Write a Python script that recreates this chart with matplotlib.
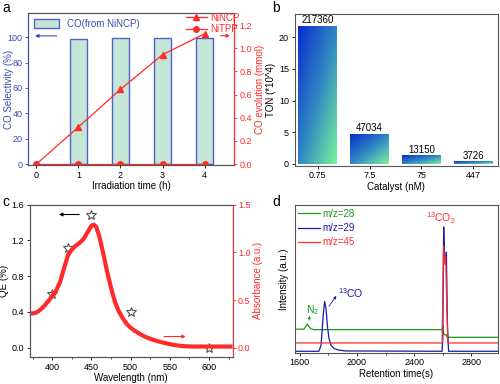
import numpy as np
import matplotlib
matplotlib.use("Agg")
import matplotlib.pyplot as plt
from matplotlib.colors import LinearSegmentedColormap
from matplotlib.lines import Line2D
from matplotlib.patches import Patch
from matplotlib.ticker import MultipleLocator

plt.rcParams["font.family"] = ["Liberation Sans", "DejaVu Sans"]
plt.rcParams["font.size"] = 6.5
plt.rcParams["axes.labelsize"] = 7
plt.rcParams["mathtext.default"] = "regular"
plt.rcParams["axes.linewidth"] = 0.8
plt.rcParams["axes.edgecolor"] = "#555555"

# --- panel a ---
hours = [0, 1, 2, 3, 4]
bar_hours = [1, 2, 3, 4]
co_selectivity = [98.2, 99.0, 99.2, 99.0]
nincp_co = [0.0, 0.32, 0.645, 0.945, 1.125]
nitpp_co = [0.0, 0.0, 0.0, 0.0, 0.0]

# --- panel b ---
catalyst_labels = ["0.75", "7.5", "75", "447"]
ton_values = [217360, 47034, 13150, 3726]

# --- panel c ---
qe_wavelength = [400, 420, 450, 500, 600]
qe_values = [0.60, 1.11, 1.48, 0.40, 0.0]
abs_wavelength = [372, 375, 380, 385, 390, 395, 400, 405, 410, 415, 420, 425,
                  430, 435, 440, 445, 450, 453, 456, 460, 465, 470, 475, 480,
                  485, 490, 495, 500, 505, 510, 515, 520, 525, 530, 535, 540,
                  545, 550, 555, 560, 565, 570, 575, 580, 590, 600, 610, 620, 630]
abs_values = [0.36, 0.36, 0.37, 0.40, 0.44, 0.49, 0.54, 0.60, 0.69, 0.83, 0.97, 1.03,
              1.07, 1.10, 1.14, 1.21, 1.28, 1.29, 1.27, 1.17, 0.99, 0.80, 0.63, 0.48,
              0.38, 0.31, 0.25, 0.21, 0.18, 0.155, 0.13, 0.11, 0.095, 0.08, 0.068, 0.057,
              0.047, 0.038, 0.030, 0.024, 0.019, 0.016, 0.014, 0.013, 0.013, 0.013, 0.013, 0.013, 0.013]

# --- panel d ---
t28 = [1570, 1630, 1645, 1655, 1665, 1680, 1700, 2595, 2600, 2605, 2615, 2625, 2630, 2985]
mz28 = [16.0, 16.0, 18.0, 19.5, 18.0, 16.2, 15.7, 15.7, 18.5, 13.0, 12.0, 12.3, 10.5, 10.5]
t29 = [1570, 1735, 1750, 1765, 1775, 1785, 1795, 1805, 1820, 1840, 1870, 1920,
       2595, 2600, 2606, 2612, 2618, 2625, 2632, 2640, 2985]
mz29 = [1.1, 1.1, 5.0, 25.0, 34.7, 30.0, 18.0, 10.0, 5.0, 3.0, 2.0, 1.3,
        1.1, 10.0, 85.0, 65.0, 60.0, 68.0, 20.0, 1.1, 1.1]
t45 = [1570, 2595, 2600, 2605, 2612, 2620, 2628, 2635, 2985]
mz45 = [6.7, 6.7, 40.0, 72.0, 60.0, 65.0, 30.0, 6.7, 6.7]

BLUE = "#3b4cb0"
RED = "#ff2a2a"
GREEN = "#1a9a1a"
NAVY = "#1a1aa8"
BAR_FILL = "#c5e5d5"
BAR_EDGE = "#5060d0"

fig = plt.figure(figsize=(5.0, 3.84), dpi=100)


def style_ticks(ax):
    ax.tick_params(direction="out", length=2.5, width=0.6, pad=1.5)


# ---------------- a ----------------
axa = fig.add_axes([0.056, 0.570, 0.412, 0.396])
axa.bar(bar_hours, co_selectivity, width=0.42, color=BAR_FILL, edgecolor=BAR_EDGE, linewidth=1.0)
axa.set_xlim(-0.2, 4.7)
axa.set_ylim(-0.8, 119)
axa.set_xticks(hours)
axa.set_yticks([0, 20, 40, 60, 80, 100])
axa.set_ylabel("CO Selectivity (%)", color=BLUE)
axa.yaxis.set_label_coords(-0.07, 0.5)
axa.set_xlabel("Irradiation time (h)", labelpad=1)
style_ticks(axa)
axa.tick_params(axis="y", colors=BLUE)
axa.spines["left"].set_color(BLUE)
axa.annotate("", xy=(-0.1, 101), xytext=(0.55, 101),
             arrowprops=dict(arrowstyle="-|>", color=BLUE, lw=0.8, mutation_scale=5))
axa.legend(handles=[Patch(facecolor=BAR_FILL, edgecolor=BAR_EDGE, linewidth=1.0, label="CO(from NiNCP)")],
           loc="upper left", frameon=False, handlelength=2.6, handleheight=1.0,
           borderaxespad=0.2, labelcolor=BLUE, fontsize=7)

axa2 = axa.twinx()
axa2.plot(hours, nincp_co, color=RED, lw=0.9, marker="^", ms=4.5)
axa2.plot(hours, nitpp_co, color=RED, lw=0.9, marker="o", ms=4)
axa2.set_ylim(-0.009, 1.304)
axa2.set_yticks([0.0, 0.2, 0.4, 0.6, 0.8, 1.0, 1.2])
axa2.set_yticklabels([f"{v:.1f}" for v in [0.0, 0.2, 0.4, 0.6, 0.8, 1.0, 1.2]])
axa2.set_ylabel("CO evolution (mmol)", color=RED, labelpad=2)
style_ticks(axa2)
axa2.tick_params(axis="y", colors=RED)
axa2.spines["right"].set_color(RED)
axa2.spines["left"].set_color(BLUE)
axa2.annotate("", xy=(4.67, 1.108), xytext=(4.31, 1.108),
              arrowprops=dict(arrowstyle="-|>", color=RED, lw=0.8, mutation_scale=5))
axa2.legend(handles=[Line2D([], [], color=RED, lw=0.9, marker="^", ms=4.5, label="NiNCP"),
                     Line2D([], [], color=RED, lw=0.9, marker="o", ms=4, label="NiTPP")],
            loc="upper right", bbox_to_anchor=(1.03, 1.01), frameon=False,
            handlelength=2.2, borderaxespad=0.0, borderpad=0.1,
            labelcolor=RED, fontsize=7, labelspacing=0.15, handletextpad=0.3)

# ---------------- b ----------------
axb = fig.add_axes([0.589, 0.568, 0.407, 0.396])
xpos = np.arange(len(catalyst_labels))
ton_scaled = [v / 1e4 for v in ton_values]
bars = axb.bar(xpos, ton_scaled, width=0.75, color="none", edgecolor="none")
cmap = LinearSegmentedColormap.from_list("ton", ["#0a2ccc", "#2f86c4", "#7af29c"])
gx, gy = np.meshgrid(np.linspace(0, 1, 80), np.linspace(0, 1, 80))
grad = 0.5 * (gx + (1 - gy))
for b, v in zip(bars, ton_values):
    x0, w, h = b.get_x(), b.get_width(), b.get_height()
    axb.imshow(grad, cmap=cmap, extent=(x0, x0 + w, 0, h), origin="lower",
               aspect="auto", zorder=2, interpolation="bilinear")
    axb.text(x0 + w / 2, h + 0.15, str(v), ha="center", va="bottom", fontsize=7)
axb.set_xlim(-0.45, 3.48)
axb.set_ylim(-0.3, 23.7)
axb.set_xticks(xpos)
axb.set_xticklabels(catalyst_labels)
axb.set_yticks([0, 5, 10, 15, 20])
axb.set_ylabel("TON (*10^4)", labelpad=2)
axb.set_xlabel("Catalyst (nM)", labelpad=1)
style_ticks(axb)

# ---------------- c ----------------
axc = fig.add_axes([0.059, 0.070, 0.406, 0.397])
axc.plot(qe_wavelength, qe_values, linestyle="none", marker="*", ms=7,
         markerfacecolor="none", markeredgecolor="#555555", markeredgewidth=0.8)
axc.set_xlim(371, 630)
axc.set_ylim(-0.105, 1.6)
axc.set_xticks([400, 450, 500, 550, 600])
axc.xaxis.set_minor_locator(MultipleLocator(25))
axc.set_yticks([0.0, 0.4, 0.8, 1.2, 1.6])
axc.set_yticklabels([f"{v:.1f}" for v in [0.0, 0.4, 0.8, 1.2, 1.6]])
axc.set_ylabel("QE (%)", labelpad=2)
axc.set_xlabel("Wavelength (nm)", labelpad=1)
style_ticks(axc)
axc.tick_params(which="minor", direction="out", length=1.5, width=0.5)
axc.annotate("", xy=(405, 1.49), xytext=(438, 1.49),
             arrowprops=dict(arrowstyle="-|>", color="black", lw=0.8, mutation_scale=5))

axc2 = axc.twinx()
axc2.plot(abs_wavelength, abs_values, color=RED, lw=3.0, solid_capstyle="butt")
axc2.set_ylim(-0.098, 1.5)
axc2.set_yticks([0.0, 0.5, 1.0, 1.5])
axc2.set_yticklabels([f"{v:.1f}" for v in [0.0, 0.5, 1.0, 1.5]])
axc2.set_ylabel("Absorbance (a.u.)", color=RED, labelpad=2)
style_ticks(axc2)
axc2.tick_params(axis="y", colors=RED)
axc2.spines["right"].set_color(RED)
axc2.annotate("", xy=(574, 0.118), xytext=(539, 0.118),
              arrowprops=dict(arrowstyle="-|>", color=RED, lw=0.8, mutation_scale=5))

# ---------------- d ----------------
axd = fig.add_axes([0.589, 0.081, 0.407, 0.386])
axd.plot(t28, mz28, color=GREEN, lw=0.9, label="m/z=28")
axd.plot(t29, mz29, color=NAVY, lw=0.9, label="m/z=29")
axd.plot(t45, mz45, color=RED, lw=0.9, label="m/z=45")
axd.set_xlim(1565, 2985)
axd.set_ylim(0, 100)
axd.set_xticks([1600, 2000, 2400, 2800])
axd.xaxis.set_minor_locator(MultipleLocator(200))
axd.set_yticks([])
axd.set_ylabel("Intensity (a.u.)", labelpad=4)
axd.set_xlabel("Retention time(s)", labelpad=1)
style_ticks(axd)
axd.tick_params(which="minor", direction="out", length=1.5, width=0.5)
axd.legend(loc="upper left", frameon=False, handlelength=2.2, borderaxespad=0.1,
           borderpad=0.3, labelcolor="linecolor", fontsize=7, labelspacing=0.45,
           handletextpad=0.3)
axd.text(1645, 27, "N$_2$", color=GREEN, fontsize=7.5)
axd.annotate("", xy=(1672, 27), xytext=(1665, 20),
             arrowprops=dict(arrowstyle="-|>", color=GREEN, lw=0.6, mutation_scale=4))
axd.text(1870, 37, "$^{13}$CO", color=NAVY, fontsize=7.5)
axd.annotate("", xy=(1868, 40), xytext=(1795, 30),
             arrowprops=dict(arrowstyle="-|>", color=NAVY, lw=0.6, mutation_scale=4))
axd.text(2480, 88, "$^{13}$CO$_2$", color=RED, fontsize=7.5)

# panel letters
fig.text(0.004, 0.997, "a", fontsize=10, va="top")
fig.text(0.544, 0.997, "b", fontsize=10, va="top")
fig.text(0.004, 0.492, "c", fontsize=10, va="top")
fig.text(0.544, 0.492, "d", fontsize=10, va="top")

fig.savefig("out.png", dpi=100)
plt.close(fig)
